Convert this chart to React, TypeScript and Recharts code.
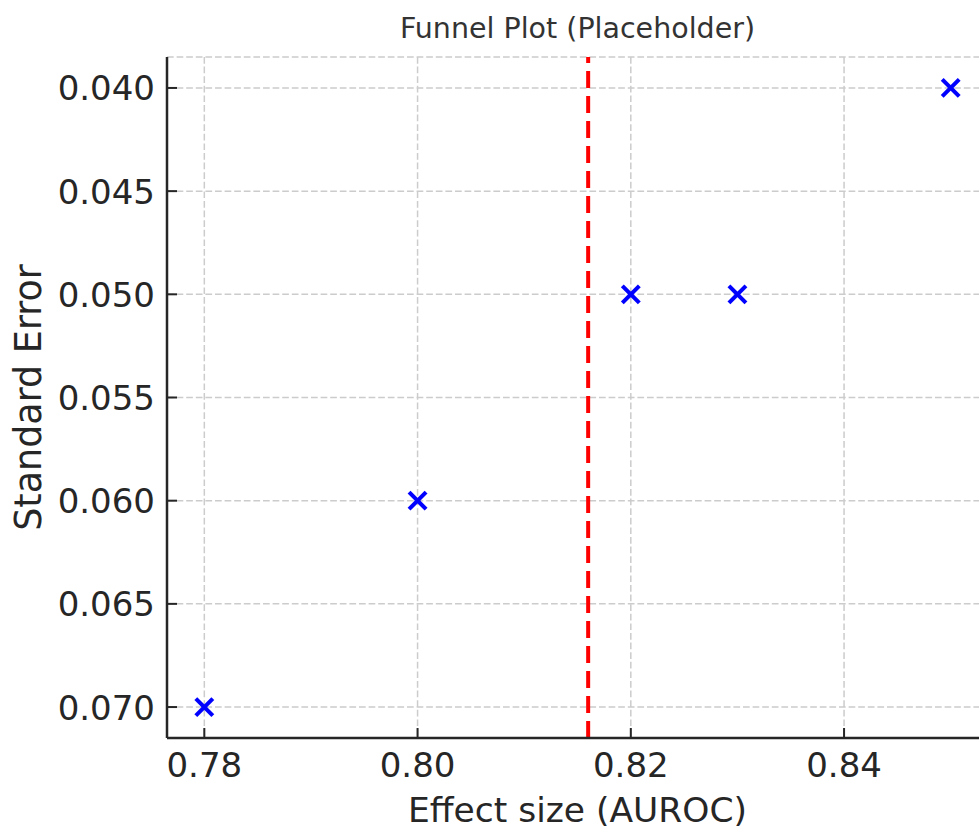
import React from 'react';
import {
  ScatterChart,
  Scatter,
  XAxis,
  YAxis,
  CartesianGrid,
  ReferenceLine,
  Label,
} from 'recharts';

// ---- data ----
const effectSizes = [0.78, 0.8, 0.82, 0.83, 0.85];
const standardErrors = [0.07, 0.06, 0.05, 0.05, 0.04];
const pooledEffect = 0.816;
const xTicks = [0.78, 0.8, 0.82, 0.84];
const yTicks = [0.04, 0.045, 0.05, 0.055, 0.06, 0.065, 0.07];
const xDomain = [0.7765, 0.8535];
const yDomain = [0.0385, 0.0715];

const points = effectSizes.map((x, i) => ({ x, y: standardErrors[i] }));

// ---- layout ----
const CHART_W = 1000;
const CHART_H = 829;
const PLOT_LEFT = 167;
const PLOT_TOP = 57;
const PLOT_RIGHT = 988;
const PLOT_BOTTOM = 738;
const FONT = '"DejaVu Sans", sans-serif';
const TEXT = '#262626';

const XTick = (props: any) => {
  const { x, y, payload } = props;
  return (
    <g>
      <line x1={x} x2={x} y1={y} y2={y - 10} stroke={TEXT} strokeWidth={2} />
      <text x={x} y={y + 39} textAnchor="middle" fontSize={34} fontFamily={FONT} fill={TEXT}>
        {Number(payload.value).toFixed(2)}
      </text>
    </g>
  );
};

const YTick = (props: any) => {
  const { x, y, payload } = props;
  return (
    <g>
      <line x1={x} x2={x + 10} y1={y} y2={y} stroke={TEXT} strokeWidth={2} />
      <text x={x - 12} y={y + 12.5} textAnchor="end" fontSize={34} fontFamily={FONT} fill={TEXT}>
        {Number(payload.value).toFixed(3)}
      </text>
    </g>
  );
};

const XMarker = (props: any) => {
  const { cx, cy } = props;
  const r = 8.5;
  return (
    <g>
      <line x1={cx - r} y1={cy - r} x2={cx + r} y2={cy + r} stroke="#0000ff" strokeWidth={4} />
      <line x1={cx - r} y1={cy + r} x2={cx + r} y2={cy - r} stroke="#0000ff" strokeWidth={4} />
    </g>
  );
};

const XLabel = () => (
  <text
    x={(PLOT_LEFT + PLOT_RIGHT) / 2}
    y={822}
    textAnchor="middle"
    fontSize={34.5}
    fontFamily={FONT}
    fill={TEXT}
  >
    Effect size (AUROC)
  </text>
);

const YLabel = () => {
  const cx = 41;
  const cy = (PLOT_TOP + PLOT_BOTTOM) / 2;
  return (
    <text
      x={cx}
      y={cy}
      transform={`rotate(-90 ${cx} ${cy})`}
      textAnchor="middle"
      fontSize={36.5}
      fontFamily={FONT}
      fill={TEXT}
    >
      Standard Error
    </text>
  );
};

export default function App() {
  return (
    <div
      style={{
        position: 'fixed',
        left: 0,
        top: 0,
        width: 979,
        height: 829,
        overflow: 'hidden',
        background: '#ffffff',
      }}
    >
      <ScatterChart
        width={CHART_W}
        height={CHART_H}
        margin={{ top: PLOT_TOP, right: CHART_W - PLOT_RIGHT, left: 0, bottom: 0 }}
      >
        <CartesianGrid stroke="#cccccc" strokeWidth={1.5} strokeDasharray="6.7 2.9" />
        <XAxis
          type="number"
          dataKey="x"
          domain={xDomain}
          ticks={xTicks}
          allowDataOverflow
          height={CHART_H - PLOT_BOTTOM}
          tickSize={0}
          tickMargin={0}
          tickLine={false}
          axisLine={{ stroke: TEXT, strokeWidth: 2.5 }}
          tick={<XTick />}
          interval={0}
        >
          <Label content={<XLabel />} />
        </XAxis>
        <YAxis
          type="number"
          dataKey="y"
          domain={yDomain}
          ticks={yTicks}
          reversed
          allowDataOverflow
          width={PLOT_LEFT}
          tickSize={0}
          tickMargin={0}
          tickLine={false}
          axisLine={{ stroke: TEXT, strokeWidth: 2.5 }}
          tick={<YTick />}
          interval={0}
        >
          <Label content={<YLabel />} />
        </YAxis>
        <ReferenceLine
          x={pooledEffect}
          stroke="#ff0000"
          strokeWidth={4}
          strokeDasharray="17 8"
          ifOverflow="extendDomain"
        />
        <Scatter data={points} shape={<XMarker />} isAnimationActive={false} />
      </ScatterChart>
      <svg
        width={979}
        height={60}
        style={{ position: 'absolute', left: 0, top: 0, pointerEvents: 'none' }}
      >
        <text
          x={(PLOT_LEFT + PLOT_RIGHT) / 2}
          y={38}
          textAnchor="middle"
          fontSize={28.5}
          fontFamily={FONT}
          fill="#333333"
        >
          Funnel Plot (Placeholder)
        </text>
      </svg>
    </div>
  );
}
